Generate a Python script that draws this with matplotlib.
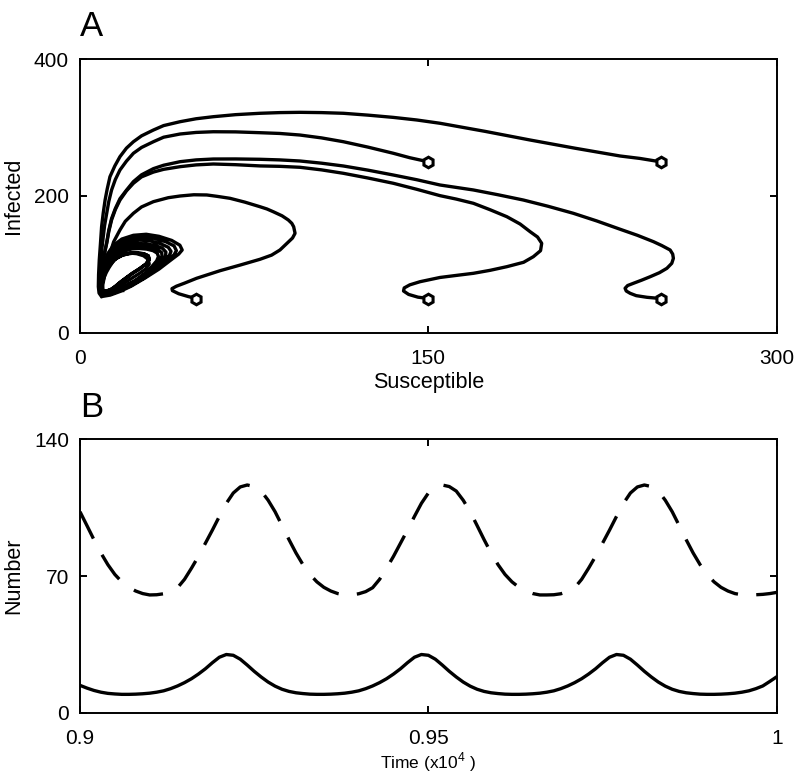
import numpy as np
import matplotlib.pyplot as plt

plt.rcParams['font.family'] = ['Liberation Sans', 'DejaVu Sans']
plt.rcParams['mathtext.fontset'] = 'custom'
plt.rcParams['mathtext.rm'] = 'Liberation Sans'

# ---- panel A: trajectories in the (S, I) plane ----
start_s = [50, 150, 250, 150, 250]
start_i = [50, 50, 50, 250, 250]

traj1_s = [50, 46.5, 42.5, 39.8, 39.6, 41.5, 45, 50.2, 60.3, 69, 77.5, 82.5, 86.1, 89.5, 91.5, 92.6,
           92.0, 91.2, 89.7, 87, 83.2, 80.5, 77.5, 71, 64.6, 59, 54.6, 49, 43.1, 38, 31.6, 26.5, 23,
           19.5, 17.2, 14.5, 12.9, 11.5, 10.8, 9.8, 9.5]
traj1_i = [50, 53, 57, 61.5, 64.5, 68, 72.5, 79.6, 90.7, 99, 107.4, 113.5, 121, 132, 138.5, 145.4,
           155, 160, 164.9, 171, 177, 181, 184.3, 191, 196.6, 199.5, 201.5, 201.8, 200, 197.5, 191.7,
           184, 174.7, 163, 150.3, 133, 116, 100, 86.9, 70, 55]

traj2_s = [150, 145.5, 141.5, 139.3, 139.6, 142, 146.4, 155, 162, 169.4, 176.5, 183.8, 191, 195.2,
           198.3, 198.8, 197, 193.8, 189.5, 183.8, 176.5, 169.4, 162, 155, 145, 134.9, 124, 113.4, 104,
           94.7, 86, 77.5, 67, 57.4, 50, 43.1, 36, 31.6, 26.5, 23, 20, 17.2, 15.2, 13.6, 12.4, 11.5,
           10.5, 9.8, 9.0, 9.5]
traj2_i = [50, 52, 56, 61, 65.5, 70, 74.6, 80.8, 83.8, 86.9, 91.2, 96.6, 103, 111.2, 120, 130.8, 140,
           147.8, 159, 169.7, 180, 189.3, 195.5, 200.5, 209.8, 218.6, 226.3, 233.2, 238.2, 242, 243.4,
           244, 245.8, 246.8, 245.5, 242.9, 239, 235, 228, 218.6, 207.5, 194, 180, 165, 148, 130.8,
           115, 100, 75, 55]

traj3_s = [250, 244.1, 239.5, 236.9, 235.2, 234.7, 235.8, 238.3, 241.8, 245.5, 249.5, 252.7, 254.8,
           255.5, 255.2, 254.1, 250.5, 246.9, 240, 232.6, 222.5, 212.4, 201.5, 190.9, 180, 169.4, 155,
           145, 134.9, 124, 113.4, 104, 94.7, 86, 77.5, 67, 57.4, 50, 43.1, 36, 31.6, 26.5, 23, 20,
           17.2, 15.2, 13.6, 12.4, 11.5, 10.5, 9.8, 9.0, 9.5]
traj3_i = [50, 51.8, 54.2, 57.6, 61, 65, 69, 72.3, 76.8, 81.9, 87.8, 94.2, 101.5, 108.8, 115, 121,
           127.5, 133.2, 142.5, 151.3, 163.5, 174.7, 185, 194.1, 201.8, 208.8, 216.1, 223.8, 230.7,
           237.8, 243.9, 248, 251.2, 252.8, 253.7, 254.2, 254.1, 252.8, 250.2, 245, 240, 231, 221,
           208.5, 196, 181.5, 167, 150, 132, 116, 100, 75, 55]

traj4_s = [150, 142, 134.9, 124, 113.4, 104, 94.7, 86, 77.5, 67, 57.4, 50, 43.1, 36, 31.6, 26.5, 23,
           20, 17.2, 15.2, 13.6, 12.4, 11.5, 10.6, 10, 9.4, 9, 8.7, 8.5, 8.7, 9.5]
traj4_i = [250, 256, 262.5, 271.5, 279.4, 285, 289.2, 291.5, 292.6, 293.8, 294, 293, 290.7, 286,
           279.4, 271, 262.5, 251, 238, 224, 208.8, 192, 174.7, 157, 140, 122, 105, 90, 75, 63, 55]

traj5_s = [250, 241, 232.6, 213, 193.8, 174.5, 155, 145, 134.9, 124, 113.4, 104, 94.7, 86, 77.5, 67,
           57.4, 50, 43.1, 36, 31.6, 26.5, 23, 20, 17.2, 15, 12.9, 11.7, 10.8, 10, 9.3, 8.8, 8.3, 8.0,
           7.9, 8.2, 9.3]
traj5_i = [250, 255, 258.5, 270, 281.9, 294.5, 306.4, 311.2, 315, 318.3, 321, 322, 322.4, 322, 321,
           319, 316, 313, 308.7, 303, 296.5, 288, 279.4, 270, 257.5, 244, 228.2, 210, 194, 175, 155,
           130, 106.4, 85, 67.3, 58, 52.7]

# transient loops spiralling onto the cycle (outer to inner)
spiral_s = [9.5, 13, 17, 22, 28, 34, 39, 42.5, 44, 43, 39.5, 34, 28.5, 23, 18, 14.5, 12, 10.5, 9.5, 9, 9.2,
            10.2, 13.5, 17.5, 22.5, 28, 33, 37.5, 40.5, 41.5, 40.5, 37, 32, 27, 22, 17.5, 14.2, 12, 10.5, 9.6, 9.2, 9.4,
            10.4, 13.8, 18, 23, 28, 32.5, 36, 38.5, 39.2, 38, 34.5, 30, 25.5, 21, 17, 14, 12, 10.6, 9.7, 9.3, 9.5,
            10.6, 14, 18.5, 23.5, 28, 32, 35, 36.8, 37, 35.5, 32.5, 28.5, 24.5, 20.5, 16.8, 14, 12, 10.7, 9.8, 9.4, 9.6,
            10.7, 14.2, 18.8, 23.8, 28, 31.5, 34, 35.3, 35.2, 33.5, 30.5, 27, 23.5, 19.8, 16.5, 13.8, 12, 10.8, 9.9, 9.5, 9.7,
            10.8, 14.4, 19, 24, 28, 31, 33, 33.8, 33.2, 31.5, 28.7, 25.5, 22.3, 19, 16, 13.6, 11.9, 10.8, 10, 9.6, 9.8]
spiral_i = [53, 55, 60, 68, 80, 93, 106, 115, 121, 128, 135, 141, 144, 142.5, 137, 128, 116, 102, 87, 72, 60,
            55, 57, 62, 70, 81, 93, 105, 114, 120, 127, 133, 138, 140, 138.5, 133, 124, 113, 100, 86, 72, 61,
            56, 58.5, 64, 72, 83, 94, 104, 113, 119, 125, 130.5, 134.5, 135.5, 133.5, 128, 120, 110, 98, 85, 72, 62,
            57, 59.5, 65.5, 74, 84, 95, 104, 112, 118, 123.5, 127.5, 130, 130.5, 128.5, 123.5, 116, 107, 96, 84, 72, 62.5,
            58, 60.2, 66.5, 75.5, 85.5, 95.5, 104, 111.5, 117, 121.5, 124.8, 126.5, 126.5, 124.3, 119.5, 112.5, 104, 94, 83, 72, 63,
            59, 61, 67.5, 77, 87, 97, 105, 111.5, 116.5, 120, 122.3, 123.2, 122.5, 119.5, 114.5, 108, 100.5, 92, 82, 72, 63.5]

# ---- panel B: time series (time in units of 1e4) ----
time = np.linspace(0.9, 1.0, 101)
susceptible = [14.0, 12.6, 11.4, 10.5, 9.9, 9.6, 9.4, 9.4, 9.5, 9.7,
               10.0, 10.5, 11.2, 12.3, 13.7, 15.4, 17.4, 19.8, 22.5, 25.6,
               28.4, 29.8, 29.4, 27.4, 24.4, 21.2, 18.3, 15.7, 13.6, 12.0,
               10.9, 10.2, 9.8, 9.5, 9.4, 9.4, 9.5, 9.7, 10.0, 10.5,
               11.2, 12.3, 13.7, 15.4, 17.4, 19.8, 22.5, 25.6, 28.4, 29.8,
               29.4, 27.4, 24.4, 21.2, 18.3, 15.7, 13.6, 12.0, 10.9, 10.2,
               9.8, 9.5, 9.4, 9.4, 9.5, 9.7, 10.0, 10.5, 11.2, 12.3,
               13.7, 15.4, 17.4, 19.8, 22.5, 25.6, 28.4, 29.8, 29.4, 27.4,
               24.4, 21.2, 18.3, 15.7, 13.6, 12.0, 10.9, 10.2, 9.8, 9.5,
               9.4, 9.4, 9.5, 9.7, 10.0, 10.5, 11.2, 12.3, 13.7, 16.0, 18.4]
infected = [102.9, 95.8, 88.6, 81.8, 75.8, 70.8, 67.0, 64.2, 62.3, 61.0,
            60.3, 60.4, 60.9, 62.0, 64.0, 68.3, 74.0, 80.1, 86.8, 93.5,
            100.5, 107.2, 112.5, 115.6, 116.6, 115.8, 113.5, 108.8, 102.9, 95.8,
            88.6, 81.8, 75.8, 70.8, 67.0, 64.2, 62.3, 61.0, 60.3, 60.4,
            60.9, 62.0, 64.0, 68.3, 74.0, 80.1, 86.8, 93.5, 100.5, 107.2,
            112.5, 115.6, 116.6, 115.8, 113.5, 108.8, 102.9, 95.8, 88.6, 81.8,
            75.8, 70.8, 67.0, 64.2, 62.3, 61.0, 60.3, 60.3, 60.4, 60.9,
            62.0, 64.0, 68.3, 74.0, 80.1, 86.8, 93.5, 100.5, 107.2, 112.5,
            115.6, 116.6, 115.8, 113.5, 108.8, 102.9, 95.8, 88.6, 81.8, 75.8,
            70.8, 67.0, 64.2, 62.3, 61.0, 60.4, 60.3, 60.4, 60.6, 61.0, 61.6]

lw = 2.4
fig = plt.figure(figsize=(7.96, 7.73), dpi=100)
axA = fig.add_axes([0.1005, 0.5696, 0.8753, 0.3537])
axB = fig.add_axes([0.1005, 0.0780, 0.8753, 0.3537])

trajs = [(traj1_s, traj1_i), (traj2_s, traj2_i), (traj3_s, traj3_i),
         (traj4_s, traj4_i), (traj5_s, traj5_i)]
for s, i in trajs:
    axA.plot(s, i, color='k', lw=lw, solid_joinstyle='round', solid_capstyle='round')
axA.plot(spiral_s, spiral_i, color='k', lw=lw, solid_joinstyle='round')
axA.plot(susceptible, infected, color='k', lw=lw, solid_joinstyle='round')
axA.plot(start_s, start_i, linestyle='none', marker='h', ms=7.6, mfc='white',
         mec='k', mew=2.2, zorder=5)
axA.set_xlim(0, 300)
axA.set_ylim(0, 400)
axA.set_xticks([0, 150, 300])
axA.set_yticks([0, 200, 400])
axA.set_xlabel('Susceptible', fontsize=15.5)
axA.set_ylabel('Infected', fontsize=15.5)
axA.xaxis.set_label_coords(0.5, -0.143)
axA.yaxis.set_label_coords(-0.08, 0.5)

axB.plot(time, susceptible, color='k', lw=lw, solid_joinstyle='round')
axB.plot(time, infected, color='k', lw=lw, dashes=(9, 5.5))
axB.set_xlim(0.9, 1.0)
axB.set_ylim(0, 140)
axB.set_xticks([0.9, 0.95, 1.0])
axB.set_xticklabels(['0.9', '0.95', '1'])
axB.set_yticks([0, 70, 140])
axB.set_xlabel('Time (x10$^{4}$ )', fontsize=12.5)
axB.set_ylabel('Number', fontsize=15.5)
axB.xaxis.set_label_coords(0.5, -0.138)
axB.yaxis.set_label_coords(-0.08, 0.5)

for ax in (axA, axB):
    ax.tick_params(direction='in', top=True, right=True, length=5, width=1.4,
                   labelsize=15)
    ax.tick_params(axis='x', pad=12)
    ax.tick_params(axis='y', pad=8)
    for sp in ax.spines.values():
        sp.set_linewidth(1.4)

fig.text(0.1005, 0.9534, 'A', fontsize=25, ha='left', va='baseline')
fig.text(0.1005, 0.4609, 'B', fontsize=25, ha='left', va='baseline')

fig.savefig('out.png', dpi=100)
